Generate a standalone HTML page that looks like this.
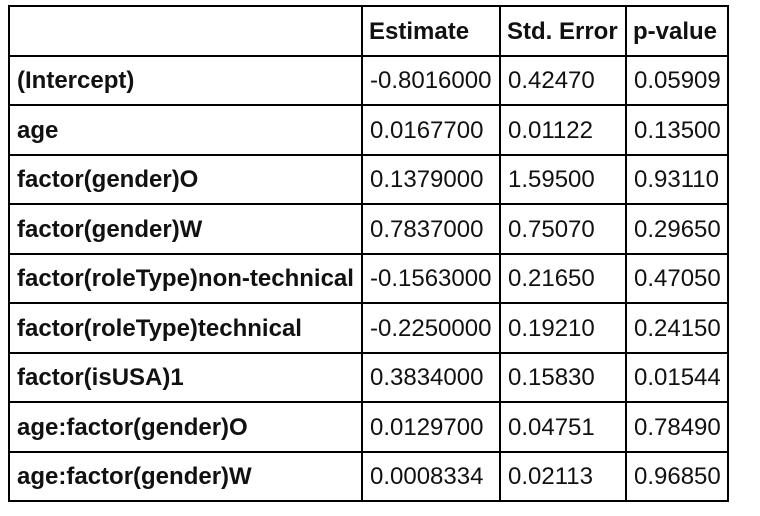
<!DOCTYPE html>
<html><head><meta charset="utf-8"><style>
body{margin:0;width:760px;height:516px;background:#fff;position:relative;font-family:"Liberation Sans",Arial,sans-serif;overflow:hidden}
.c{position:absolute;box-sizing:border-box;display:flex;align-items:center;padding-left:7px;padding-top:2px;font-size:24px;color:#111;white-space:nowrap}
.b{font-weight:bold}
.h{position:absolute;background:#000}
</style></head><body>
<div id="t"></div>
<script>
const cols=[8,361,499,625,727];
const header=["","Estimate","Std. Error","p-value"];
const rows=[
["(Intercept)","-0.8016000","0.42470","0.05909"],
["age","0.0167700","0.01122","0.13500"],
["factor(gender)O","0.1379000","1.59500","0.93110"],
["factor(gender)W","0.7837000","0.75070","0.29650"],
["factor(roleType)non-technical","-0.1563000","0.21650","0.47050"],
["factor(roleType)technical","-0.2250000","0.19210","0.24150"],
["factor(isUSA)1","0.3834000","0.15830","0.01544"],
["age:factor(gender)O","0.0129700","0.04751","0.78490"],
["age:factor(gender)W","0.0008334","0.02113","0.96850"]];
const tableTop=5,tableBottom=500,nRows=rows.length+1,rh=(tableBottom-tableTop)/nRows;
const t=document.getElementById('t');
const all=[header,...rows];
all.forEach((r,i)=>{r.forEach((v,j)=>{
 const d=document.createElement('div');
 d.className='c'+((i===0||j===0)?' b':'');
 d.style.left=(cols[j]+2)+'px';d.style.width=(cols[j+1]-cols[j]-2)+'px';
 d.style.top=(tableTop+i*rh+2)+'px';d.style.height=(rh-2)+'px';
 if(i===0){d.style.paddingLeft='6px';}
 d.textContent=v;
 
 
 t.appendChild(d);});});
for(let i=0;i<=nRows;i++){const l=document.createElement('div');l.className='h';
 l.style.left=cols[0]+'px';l.style.width=(cols[4]-cols[0]+2)+'px';l.style.top=Math.round(tableTop+i*rh)+'px';l.style.height='2px';
 
 
 t.appendChild(l);}
cols.forEach(x=>{const l=document.createElement('div');l.className='h';
 l.style.left=x+'px';l.style.width='2px';l.style.top=tableTop+'px';l.style.height=(tableBottom-tableTop+2)+'px';
 
 
 t.appendChild(l);});
</script>
</body></html>
